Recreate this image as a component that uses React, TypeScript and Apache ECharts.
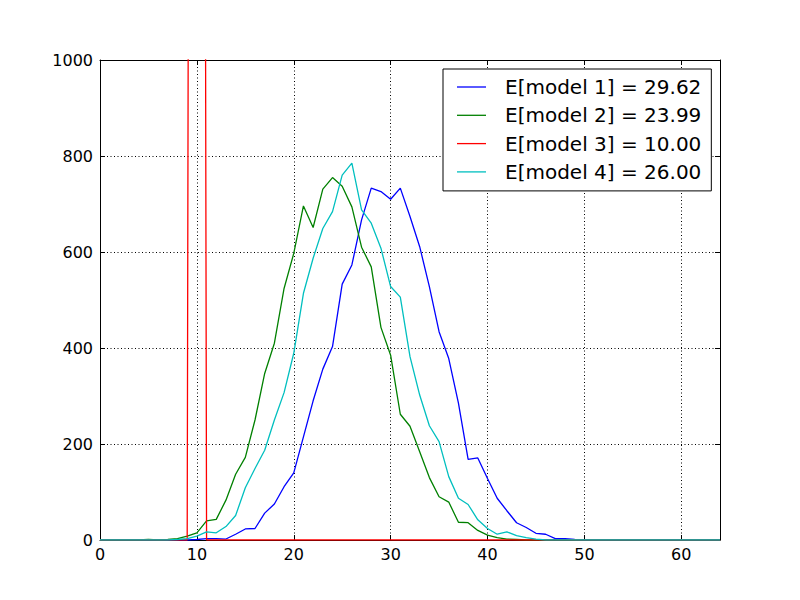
import React, { useEffect, useRef } from "react";
import * as echarts from "echarts";

const xs = [
  0, 1, 2, 3, 4, 5, 6, 7, 8, 9, 10, 11, 12, 13, 14, 15, 16, 17, 18, 19, 20,
  21, 22, 23, 24, 25, 26, 27, 28, 29, 30, 31, 32, 33, 34, 35, 36, 37, 38, 39,
  40, 41, 42, 43, 44, 45, 46, 47, 48, 49, 50, 51, 52, 53, 54, 55, 56, 57, 58,
  59, 60, 61, 62, 63, 64,
];

const model1 = [
  0, 0, 0, 0, 0, 0, 0, 0, 0, 0, 1, 3, 3, 2, 12, 23, 24, 56, 75, 111, 140,
  215, 290, 356, 403, 533, 573, 667, 733, 726, 710, 733, 674, 611, 528, 434,
  378, 285, 168, 171, 128, 87, 61, 36, 26, 14, 12, 3, 3, 1, 0, 0, 0, 0, 0, 0,
  0, 0, 0, 0, 0, 0, 0, 0, 0,
];

const model2 = [
  0, 0, 0, 0, 0, 1, 0, 1, 3, 8, 15, 40, 43, 83, 137, 172, 250, 347, 410, 524,
  597, 696, 651, 731, 755, 737, 694, 610, 569, 443, 385, 262, 237, 184, 130,
  90, 79, 37, 36, 20, 10, 5, 2, 1, 0, 0, 0, 0, 0, 0, 0, 0, 0, 0, 0, 0, 0, 0,
  0, 0, 0, 0, 0, 0, 0,
];

const model3 = [
  0, 0, 0, 0, 0, 0, 0, 0, 0, 0, 10000, 0, 0, 0, 0, 0, 0, 0, 0, 0, 0, 0, 0, 0,
  0, 0, 0, 0, 0, 0, 0, 0, 0, 0, 0, 0, 0, 0, 0, 0, 0, 0, 0, 0, 0, 0, 0, 0, 0,
  0, 0, 0, 0, 0, 0, 0, 0, 0, 0, 0, 0, 0, 0, 0, 0,
];

const model4 = [
  0, 0, 0, 0, 0, 0, 0, 0, 1, 3, 8, 17, 15, 28, 51, 109, 149, 187, 250, 307,
  389, 514, 587, 649, 684, 760, 785, 688, 660, 608, 528, 506, 382, 302, 238,
  205, 132, 87, 74, 42, 24, 12, 17, 9, 5, 2, 0, 0, 0, 0, 0, 0, 0, 0, 0, 0, 0,
  0, 0, 0, 0, 0, 0, 0, 0,
];

const seriesNames = [
  "E[model 1] = 29.62",
  "E[model 2] = 23.99",
  "E[model 3] = 10.00",
  "E[model 4] = 26.00",
];
const seriesValues = [model1, model2, model3, model4];
const seriesColors = ["#0000ff", "#008000", "#ff0000", "#00bfbf"];

const FONT = "DejaVu Sans";

export default function App() {
  const ref = useRef<HTMLDivElement>(null);
  useEffect(() => {
    if (!ref.current) return;
    const chart = echarts.init(ref.current, undefined, { renderer: "svg" });
    const axisCommon = {
      type: "value" as const,
      axisLine: { show: true, onZero: false, lineStyle: { color: "#000", width: 1 } },
      axisTick: { show: true, inside: true, length: 5, lineStyle: { color: "#000" } },
    };
    const gridLine = { show: true, lineStyle: { color: "#000", type: [1, 2.5], width: 1 } };
    chart.setOption({
      animation: false,
      backgroundColor: "#ffffff",
      grid: { left: 100, right: 80, top: 60, bottom: 60, containLabel: false },
      legend: {
        orient: "vertical",
        left: 443,
        top: 69,
        width: 268,
        padding: [8, 10, 9, 14],
        itemGap: 8.3,
        itemWidth: 29,
        itemHeight: 1.3,
        icon: "rect",
        backgroundColor: "#ffffff",
        borderColor: "#000",
        borderWidth: 1,
        borderRadius: 0,
        data: seriesNames,
        textStyle: {
          fontFamily: FONT,
          fontSize: 20,
          color: "#000",
          lineHeight: 20,
          padding: [0, 0, 0, 14],
        },
      },
      xAxis: [
        {
          ...axisCommon,
          position: "bottom",
          min: 0,
          max: 64,
          interval: 10,
          axisLabel: { fontFamily: FONT, fontSize: 16, color: "#000", margin: 6, showMaxLabel: false },
          splitLine: gridLine,
        },
        {
          ...axisCommon,
          position: "top",
          min: 0,
          max: 64,
          interval: 10,
          axisLabel: { show: false },
          splitLine: { show: false },
        },
      ],
      yAxis: [
        {
          ...axisCommon,
          position: "left",
          min: 0,
          max: 1000,
          interval: 200,
          axisLabel: {
            fontFamily: FONT,
            fontSize: 16,
            color: "#000",
            margin: 7,
            formatter: (v: number) => String(v),
          },
          splitLine: gridLine,
        },
        {
          ...axisCommon,
          position: "right",
          min: 0,
          max: 1000,
          interval: 200,
          axisLabel: { show: false },
          splitLine: { show: false },
        },
      ],
      series: seriesNames.map((name, i) => ({
        name,
        type: "line",
        xAxisIndex: 0,
        yAxisIndex: 0,
        symbol: "none",
        clip: true,
        color: seriesColors[i],
        lineStyle: { color: seriesColors[i], width: 1.3 },
        data: xs.map((x, j) => [x, seriesValues[i][j]]),
      })),
    });
    return () => chart.dispose();
  }, []);
  return (
    <div
      ref={ref}
      style={{ position: "fixed", left: 0, top: 0, width: 800, height: 600 }}
    />
  );
}
